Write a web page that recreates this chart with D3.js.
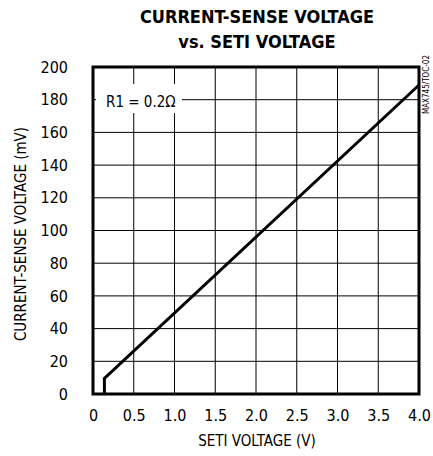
<!DOCTYPE html>
<html><head><meta charset="utf-8">
<script src="https://cdn.jsdelivr.net/npm/d3@7"></script>
<style>
body{margin:0;background:#fff;}
text{font-family:"Liberation Sans Narrow","DejaVu Sans Condensed","Liberation Sans",sans-serif;fill:#000;}
</style></head>
<body>
<script>
const xTicks = [0, 0.5, 1.0, 1.5, 2.0, 2.5, 3.0, 3.5, 4.0];
const xTickLabels = ["0", "0.5", "1.0", "1.5", "2.0", "2.5", "3.0", "3.5", "4.0"];
const yTicks = [0, 20, 40, 60, 80, 100, 120, 140, 160, 180, 200];
const setiV = [0.14, 0.14, 4.0];
const senseMv = [0, 9.5, 189];
const titleLines = ["CURRENT-SENSE VOLTAGE", "vs. SETI VOLTAGE"];
const legendLabel = "R1 = 0.2Ω";

const W = 433, H = 456;
const m = {left: 93, top: 67, right: 419, bottom: 394};
const svg = d3.select("body").append("svg").attr("width", W).attr("height", H);

const x = d3.scaleLinear().domain([0, 4]).range([m.left, m.right]);
const y = d3.scaleLinear().domain([0, 200]).range([m.bottom, m.top]);

// title
svg.selectAll(".title").data(titleLines).enter().append("text")
  .attr("x", 257).attr("y", (d, i) => 23 + i * 25)
  .attr("text-anchor", "middle")
  .style("font-weight", "bold").style("font-size", "18px")
  .text(d => d);

// grid
svg.append("g").selectAll("line").data(xTicks.slice(1, -1)).enter().append("line")
  .attr("x1", d => x(d)).attr("x2", d => x(d)).attr("y1", m.top).attr("y2", m.bottom)
  .attr("stroke", "#000").attr("stroke-width", 1);
svg.append("g").selectAll("line").data(yTicks.slice(1, -1)).enter().append("line")
  .attr("y1", d => y(d)).attr("y2", d => y(d)).attr("x1", m.left).attr("x2", m.right)
  .attr("stroke", "#000").attr("stroke-width", 1);

// legend box (white knockout)
svg.append("rect").attr("x", 96).attr("y", 84).attr("width", 86).attr("height", 29).attr("fill", "#fff");
svg.append("text").attr("x", 106).attr("y", y(180) + 7).style("font-size", "15px").text(legendLabel);

// data line
const pts = setiV.map((v, i) => [v, senseMv[i]]);
svg.append("path").datum(pts)
  .attr("d", d3.line().x(d => x(d[0])).y(d => y(d[1])))
  .attr("fill", "none").attr("stroke", "#000").attr("stroke-width", 3).attr("stroke-linejoin", "miter");

// frame
svg.append("rect").attr("x", m.left).attr("y", m.top).attr("width", m.right - m.left).attr("height", m.bottom - m.top)
  .attr("fill", "none").attr("stroke", "#000").attr("stroke-width", 3);

// axes labels via d3 axes
const xAxis = d3.axisBottom(x).tickValues(xTicks).tickFormat((d, i) => xTickLabels[i]).tickSize(0).tickPadding(16);
const gx = svg.append("g").attr("transform", `translate(0,${m.bottom})`).call(xAxis);
gx.select(".domain").remove();
gx.selectAll("text").style("font-size", "16px").attr("font-family", null);

const yAxis = d3.axisLeft(y).tickValues(yTicks).tickSize(0).tickPadding(25);
const gy = svg.append("g").attr("transform", `translate(${m.left},0)`).call(yAxis);
gy.select(".domain").remove();
gy.selectAll("text").style("font-size", "16px").attr("font-family", null);

// axis titles
svg.append("text").attr("x", 257).attr("y", 446).attr("text-anchor", "middle").style("font-size", "15px").text("SETI VOLTAGE (V)");
svg.append("text").attr("transform", "translate(26,234) rotate(-90)").attr("text-anchor", "middle").style("font-size", "15px").text("CURRENT-SENSE VOLTAGE (mV)");

// side code
svg.append("text").attr("transform", "translate(429,55) rotate(-90)").attr("text-anchor", "end").style("font-size", "8px").text("MAX745/TOC-02");
</script>
</body></html>
